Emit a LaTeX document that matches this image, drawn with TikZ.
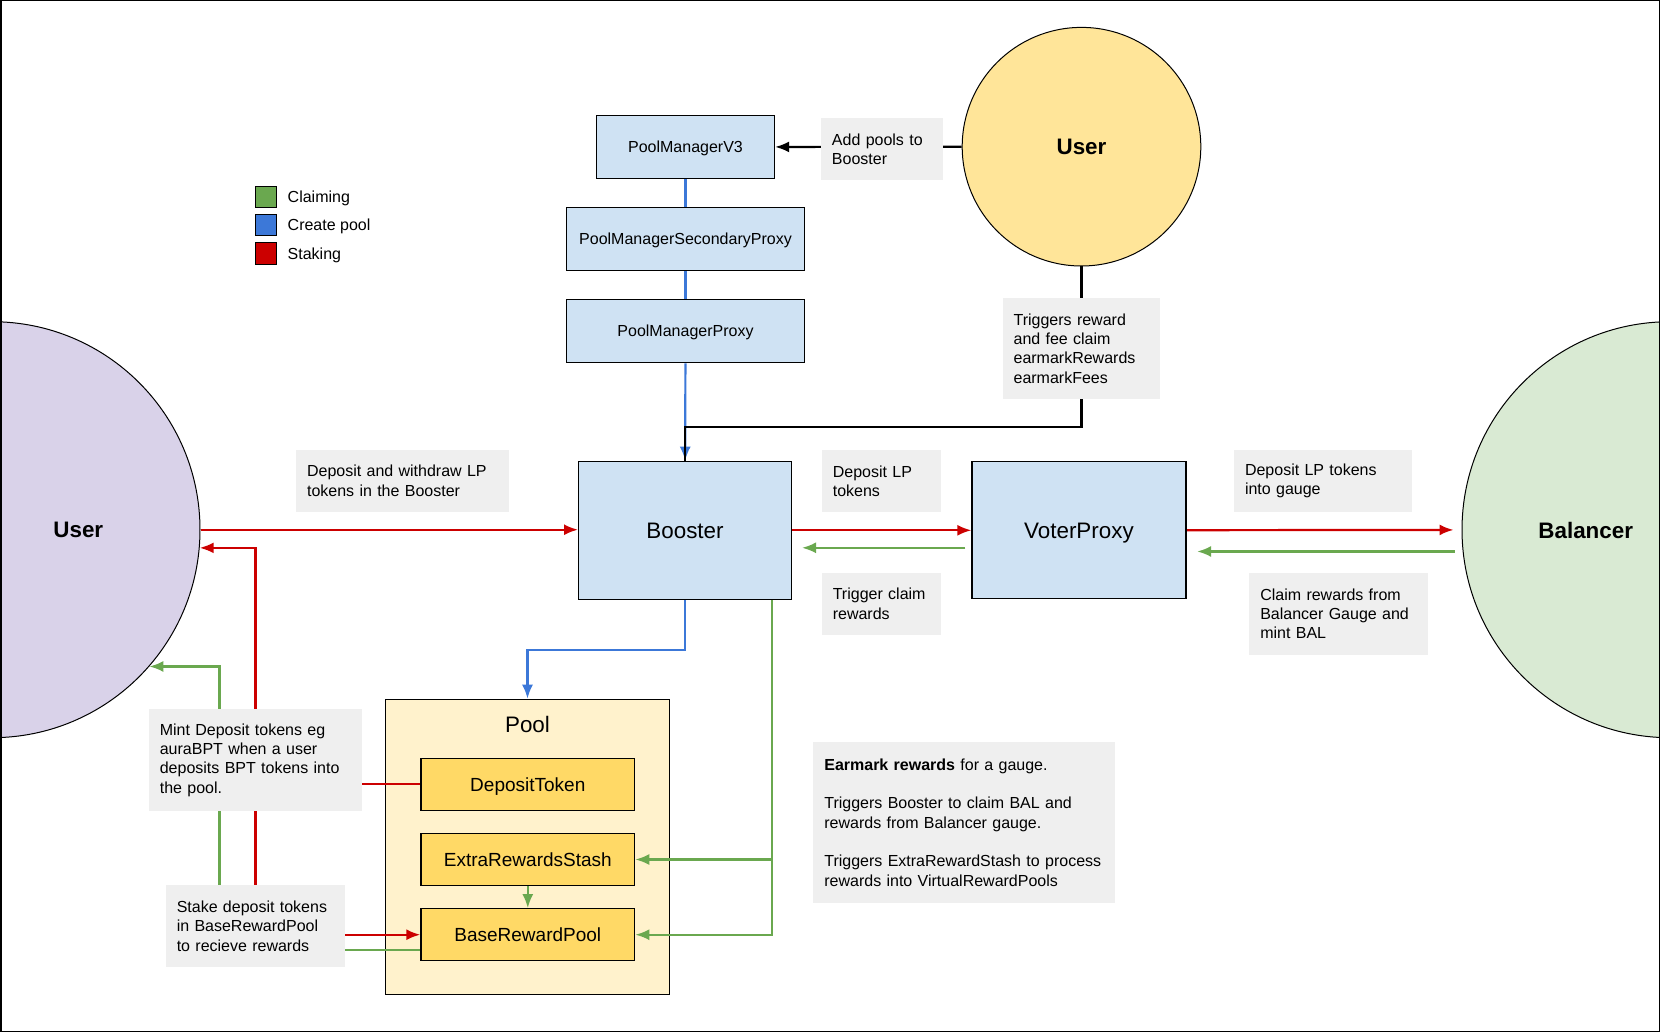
\documentclass[tikz,border=0pt]{standalone}
\usepackage{fontspec}
\setmainfont{Liberation Sans}
\usetikzlibrary{arrows.meta, positioning, shapes, backgrounds}
\definecolor{boxblue}{HTML}{CFE2F3}
\definecolor{userpurple}{HTML}{D9D2E9}
\definecolor{useryellow}{HTML}{FFE599}
\definecolor{balgreen}{HTML}{D9EAD3}
\definecolor{poolbg}{HTML}{FFF2CC}
\definecolor{poolbox}{HTML}{FFD966}
\definecolor{notegray}{HTML}{EFEFEF}
\definecolor{claimgreen}{HTML}{6AA84F}
\definecolor{createblue}{HTML}{3C78D8}
\definecolor{stakered}{HTML}{CC0000}
\newcommand{\bigfont}{\fontsize{22.4}{26}\selectfont}
\newcommand{\midfont}{\fontsize{19}{22}\selectfont}
\newcommand{\smallfont}{\fontsize{16}{19.3}\selectfont}

\begin{document}
\begin{tikzpicture}[x=1pt, y=-1pt, node distance = 28pt, auto, font=\smallfont]
\tikzstyle{block} = [rectangle, draw, line width=1.2pt, fill=boxblue, text=black,
    align=center, inner sep=0pt, text depth=0pt]
\tikzstyle{poolblock} = [block, fill=poolbox, font=\midfont,
    minimum width=213.8pt, minimum height=52pt]
\tikzstyle{note} = [rectangle, fill=notegray, align=left, inner xsep=11pt, inner ysep=0pt]
\tikzstyle{actor} = [circle, draw, line width=1pt, inner sep=0pt]
\tikzstyle{key} = [rectangle, draw, line width=1pt, minimum width=20.6pt,
    minimum height=21.4pt, inner sep=0pt]
\tikzstyle{keytext} = [inner sep=0pt, text height=11.5pt, text depth=0pt]
\tikzstyle{line} = [draw, line width=2.2pt, -{Latex[length=14pt,width=11pt]}]
\tikzstyle{claim} = [line, claimgreen]
\tikzstyle{create} = [line, createblue]
\tikzstyle{stake} = [line, stakered]
\tikzstyle{ctrl} = [line, black]
    \useasboundingbox (0,0) rectangle (1660,1032);

    % Pool container
    \begin{scope}[on background layer]
    \node [rectangle, draw, line width=1.2pt, fill=poolbg, minimum width=284.3pt,
        minimum height=295pt, inner sep=0pt,
        label={[font=\bigfont, anchor=north, inner sep=0pt, yshift=-17pt]north:Pool}]
        (pool) at (527.5,846.8) {};
    \end{scope}

    % Place nodes
    \node [block, minimum width=178pt, minimum height=62.6pt] (pmv3) at (685.5,147) {PoolManagerV3};
    \node [block, minimum width=238.3pt, minimum height=63pt, below=of pmv3] (pmsp) {PoolManagerSecondaryProxy};
    \node [block, minimum width=238.3pt, minimum height=63pt, below=of pmsp] (pmp) {PoolManagerProxy};
    \node [block, font=\bigfont, minimum width=212.8pt, minimum height=138pt] (booster) at (685,530.3) {Booster};
    \node [block, font=\bigfont, minimum width=213.9pt, minimum height=137pt, right=179.4pt of booster] (voter) {VoterProxy};

    \node [poolblock] (deposit) at (527.8,784.3) {DepositToken};
    \node [poolblock, below=22pt of deposit] (ers) {ExtraRewardsStash};
    \node [poolblock, below=22pt of ers] (brp) {BaseRewardPool};

    \node [actor, fill=useryellow, minimum size=238.6pt, font=\bigfont\bfseries] (usert) at (1081.5,146.7) {User};
    \node [actor, fill=userpurple, minimum size=416pt] (userl) at (-8,529.7) {};
    \node [font=\bigfont\bfseries] (userltext) at (78.3,530) {User};
    \node [actor, fill=balgreen, minimum size=416pt] (bal) at (1670,529.7) {};
    \node [font=\bigfont\bfseries] (baltext) at (1585.7,530) {Balancer};

    % Legend
    \node [key, fill=claimgreen] (keyclaim) at (266,196.8) {};
    \node [key, fill=createblue, below=6pt of keyclaim] (keycreate) {};
    \node [key, fill=stakered, below=6pt of keycreate] (keystake) {};
    \node [keytext, right=10.7pt of keyclaim] (txtclaim) {Claiming};
    \node [keytext, right=10.7pt of keycreate] (txtcreate) {Create pool};
    \node [keytext, right=10.7pt of keystake] (txtstake) {Staking};

    % Notes
    \node [note, text width=99.7pt, minimum height=62pt] (addnote) at (881.8,149) {Add pools to\\Booster};
    \node [note, text width=135.2pt, minimum height=101.6pt] (trignote) at (1081.2,348.5)
        {Triggers reward\\and fee claim\\earmarkRewards\\earmarkFees};
    \node [note, text width=191.3pt, minimum height=61.7pt] (depwnote) at (402.7,480.9)
        {Deposit and withdraw LP\\tokens in the Booster};
    \node [note, text width=97.4pt, minimum height=62pt] (deplpnote) at (881.5,481) {Deposit LP\\tokens};
    \node [note, text width=155.8pt, minimum height=62pt] (gaugenote) at (1322.9,481) {Deposit LP tokens\\into gauge};
    \node [note, text width=97.6pt, minimum height=62.3pt] (tclaimnote) at (881.6,603.9) {Trigger claim\\rewards};
    \node [note, text width=156.4pt, minimum height=81.7pt] (balnote) at (1338.5,613.9)
        {Claim rewards from\\Balancer Gauge and\\mint BAL};
    \node [note, text width=279.7pt, minimum height=160.4pt] (earnote) at (964.2,822.5)
        {\textbf{Earmark rewards} for a gauge.\\[19.3pt]
         Triggers Booster to claim BAL and\\rewards from Balancer gauge.\\[19.3pt]
         Triggers ExtraRewardStash to process\\rewards into VirtualRewardPools};
    \node [note, text width=191.3pt, minimum height=101.7pt] (mintnote) at (255.5,760.2)
        {Mint Deposit tokens eg\\auraBPT when a user\\deposits BPT tokens into\\the pool.};
    \node [note, text width=157.5pt, minimum height=82pt] (stakenote) at (255.5,926)
        {Stake deposit tokens\\in BaseRewardPool\\to recieve rewards};

%paths
    \begin{scope}[on background layer]
    \path [create, -] (pmv3) -- (pmsp);
    \path [create, -] (pmsp) -- (pmp);
    \path [create] (pmp) -- (booster);
    \path [create] (booster.south) -- ++(0,50) -| (pool.north);

    \path [ctrl] (usert) -- (pmv3);
    \path [ctrl, -] (usert.south) -- ++(0,160.7) -| (booster.north);

    \path [stake] (userl.east) -- (userl.east -| booster.west);
    \path [stake] (booster) -- (voter);
    \path [stake, shorten >=8pt] (voter) -- (bal);
    \path [stake] (stakenote.north) |- (userl.-5.6);
    \path [stake, -] (deposit.west) -- (deposit.west -| mintnote.east);
    \path [stake] (stakenote.east |- brp.west) -- (brp.west);

    \path [claim, shorten <=6pt, shorten >=10pt] ([yshift=-17.5pt]voter.west) -- ([yshift=-17.5pt]booster.east);
    \path [claim, shorten <=8pt, shorten >=10.6pt] (bal.186.8) -- (bal.186.8 -| voter.east);
    \path [claim] ([xshift=-20pt]booster.south east) |- (ers.east);
    \path [claim] ([xshift=-20pt]booster.south east) |- (brp.east);
    \path [claim] (ers) -- (brp);
    \path [claim] ([xshift=-36pt]stakenote.north) |- (userl.-41.3);
    \path [claim, -] ([yshift=-15.4pt]brp.west) -- ([yshift=-15.4pt]brp.west -| stakenote.east);
    \end{scope}

    % Frame
    \draw [line width=1.5pt] (0.75,0.75) rectangle (1659.25,1031.25);

\end{tikzpicture}
\end{document}
